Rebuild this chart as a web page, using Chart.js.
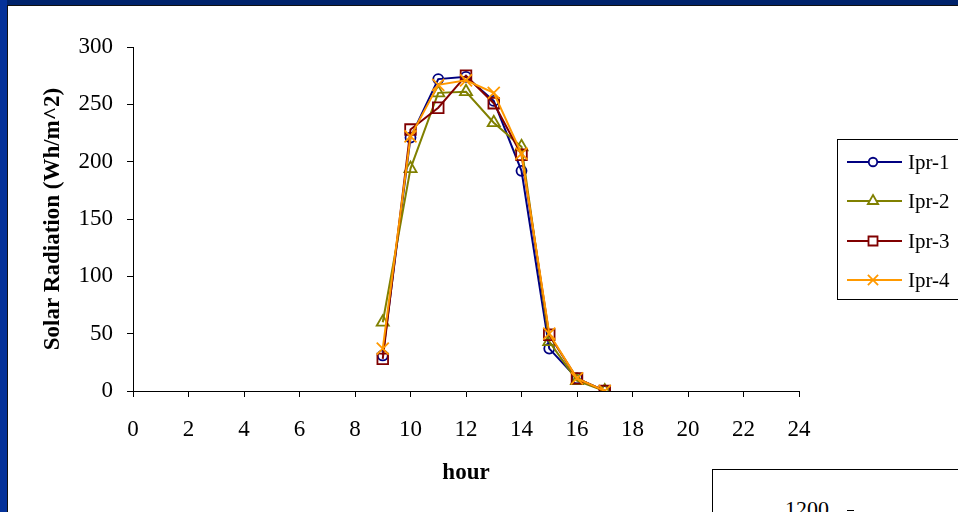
<!DOCTYPE html>
<html>
<head>
<meta charset="utf-8">
<script src="https://cdn.jsdelivr.net/npm/chart.js@4.4.1/dist/chart.umd.min.js"></script>
<style>
  html, body { margin: 0; padding: 0; background: #fff; }
  #frame { position: relative; width: 958px; height: 512px; overflow: hidden; background: #00236c; }
  #leftbar { position: absolute; left: 0; top: 0; width: 7px; height: 512px; background: #05329a; }
  #panel { position: absolute; left: 7px; top: 5px; width: 951px; height: 507px; background: #fff;
           border-left: 1px solid #111; border-top: 1px solid #111; box-sizing: border-box; }
  #c { position: absolute; left: 0; top: 0; }
  #box2 { position: absolute; left: 712px; top: 469px; width: 260px; height: 60px;
          border: 1px solid #000; box-sizing: border-box; background: #fff;
          font-family: "Liberation Serif", "Times New Roman", serif; font-size: 22px; color: #000; }
  #box2 span { position: absolute; left: 72px; top: 26px; }
  #box2 i { position: absolute; left: 134px; top: 40px; width: 7px; height: 1px; background: #000; }
</style>
</head>
<body>
<div id="frame">
  <div id="leftbar"></div>
  <div id="panel"></div>
  <canvas id="c" width="958" height="512"></canvas>
  <div id="box2"><span>1200</span><i></i></div>
</div>
<script>
const hours = [9, 10, 11, 12, 13, 14, 15, 16, 17];
const seriesNames = ["Ipr-1", "Ipr-2", "Ipr-3", "Ipr-4"];
const ipr1 = [31, 221, 272, 274, 253, 192, 37, 11, 0];
const ipr2 = [60, 194, 260, 261, 234, 213, 43, 9, 0];
const ipr3 = [28, 228, 247, 275, 251, 206, 49, 11, 0];
const ipr4 = [37, 222, 267, 271, 260, 207, 50, 11, 0];
const xTicks = [0, 2, 4, 6, 8, 10, 12, 14, 16, 18, 20, 22, 24];
const yTicks = [0, 50, 100, 150, 200, 250, 300];

const colors = ["#000080", "#808000", "#800000", "#FF9900"];
const styles = ["circle", "triangle", "rect", "crossRot"];
const radii = [5, 7, 7.5, 8.5];
const allVals = [ipr1, ipr2, ipr3, ipr4];

const datasets = allVals.map((vals, i) => ({
  label: seriesNames[i],
  data: hours.map((h, j) => ({ x: h, y: vals[j] })),
  borderColor: colors[i],
  backgroundColor: "rgba(0,0,0,0)",
  pointBorderColor: colors[i],
  pointBackgroundColor: "rgba(0,0,0,0)",
  pointStyle: styles[i],
  pointRadius: radii[i],
  pointBorderWidth: 1.8,
  borderWidth: 2,
  tension: 0,
  order: 4 - i
}));

const FONT = '"Liberation Serif", "Times New Roman", serif';

const legendPlugin = {
  id: 'customLegend',
  afterDraw(chart) {
    const ctx = chart.ctx;
    ctx.save();
    ctx.strokeStyle = '#000';
    ctx.lineWidth = 1;
    ctx.fillStyle = '#fff';
    ctx.fillRect(837.5, 139.5, 140, 160);
    ctx.strokeRect(837.5, 139.5, 140, 160);
    const rows = [162, 201, 241, 280];
    chart.data.datasets.forEach((ds, i) => {
      const y = rows[i];
      ctx.strokeStyle = ds.borderColor;
      ctx.lineWidth = 2;
      ctx.beginPath();
      ctx.moveTo(847, y);
      ctx.lineTo(902, y);
      ctx.stroke();
      ctx.lineWidth = 1.8;
      ctx.fillStyle = '#fff';
      Chart.helpers.drawPoint(ctx, {
        pointStyle: ds.pointStyle, radius: ds.pointRadius * 0.85, rotation: 0,
        borderWidth: 1.8
      }, 873, y);
      ctx.fillStyle = '#000';
      ctx.font = '21px ' + FONT;
      ctx.textBaseline = 'middle';
      ctx.textAlign = 'left';
      ctx.fillText(ds.label, 908, y + 1);
    });
    ctx.restore();
  }
};

new Chart(document.getElementById('c'), {
  type: 'line',
  data: { datasets },
  plugins: [legendPlugin],
  options: {
    responsive: false,
    animation: false,
    devicePixelRatio: 1,
    layout: { padding: { left: 0, top: 47, right: 159, bottom: 0 } },
    plugins: { legend: { display: false }, tooltip: { enabled: false } },
    scales: {
      x: {
        type: 'linear', min: 0, max: 24,
        afterFit(s) { s.height = 121; },
        afterBuildTicks(s) { s.ticks = xTicks.map(v => ({ value: v })); },
        border: { display: true, color: '#000', width: 1 },
        grid: { drawOnChartArea: false, drawTicks: true, tickLength: 6, color: '#000' },
        ticks: { color: '#000', font: { family: FONT, size: 23 }, padding: 19, maxRotation: 0, autoSkip: false },
        title: { display: true, text: 'hour', color: '#000', font: { family: FONT, size: 23, weight: 'bold' }, padding: { top: 0, bottom: 25 } }
      },
      y: {
        min: 0, max: 300,
        afterFit(s) { s.width = 133; },
        afterBuildTicks(s) { s.ticks = yTicks.map(v => ({ value: v })); },
        border: { display: true, color: '#000', width: 1 },
        grid: { drawOnChartArea: false, drawTicks: true, tickLength: 6, color: '#000' },
        ticks: { color: '#000', font: { family: FONT, size: 23 }, padding: 14 },
        title: { display: true, text: 'Solar Radiation (Wh/m^2)', color: '#000', font: { family: FONT, size: 23, weight: 'bold' }, padding: { top: 39, bottom: 0 } }
      }
    }
  }
});
</script>
</body>
</html>
